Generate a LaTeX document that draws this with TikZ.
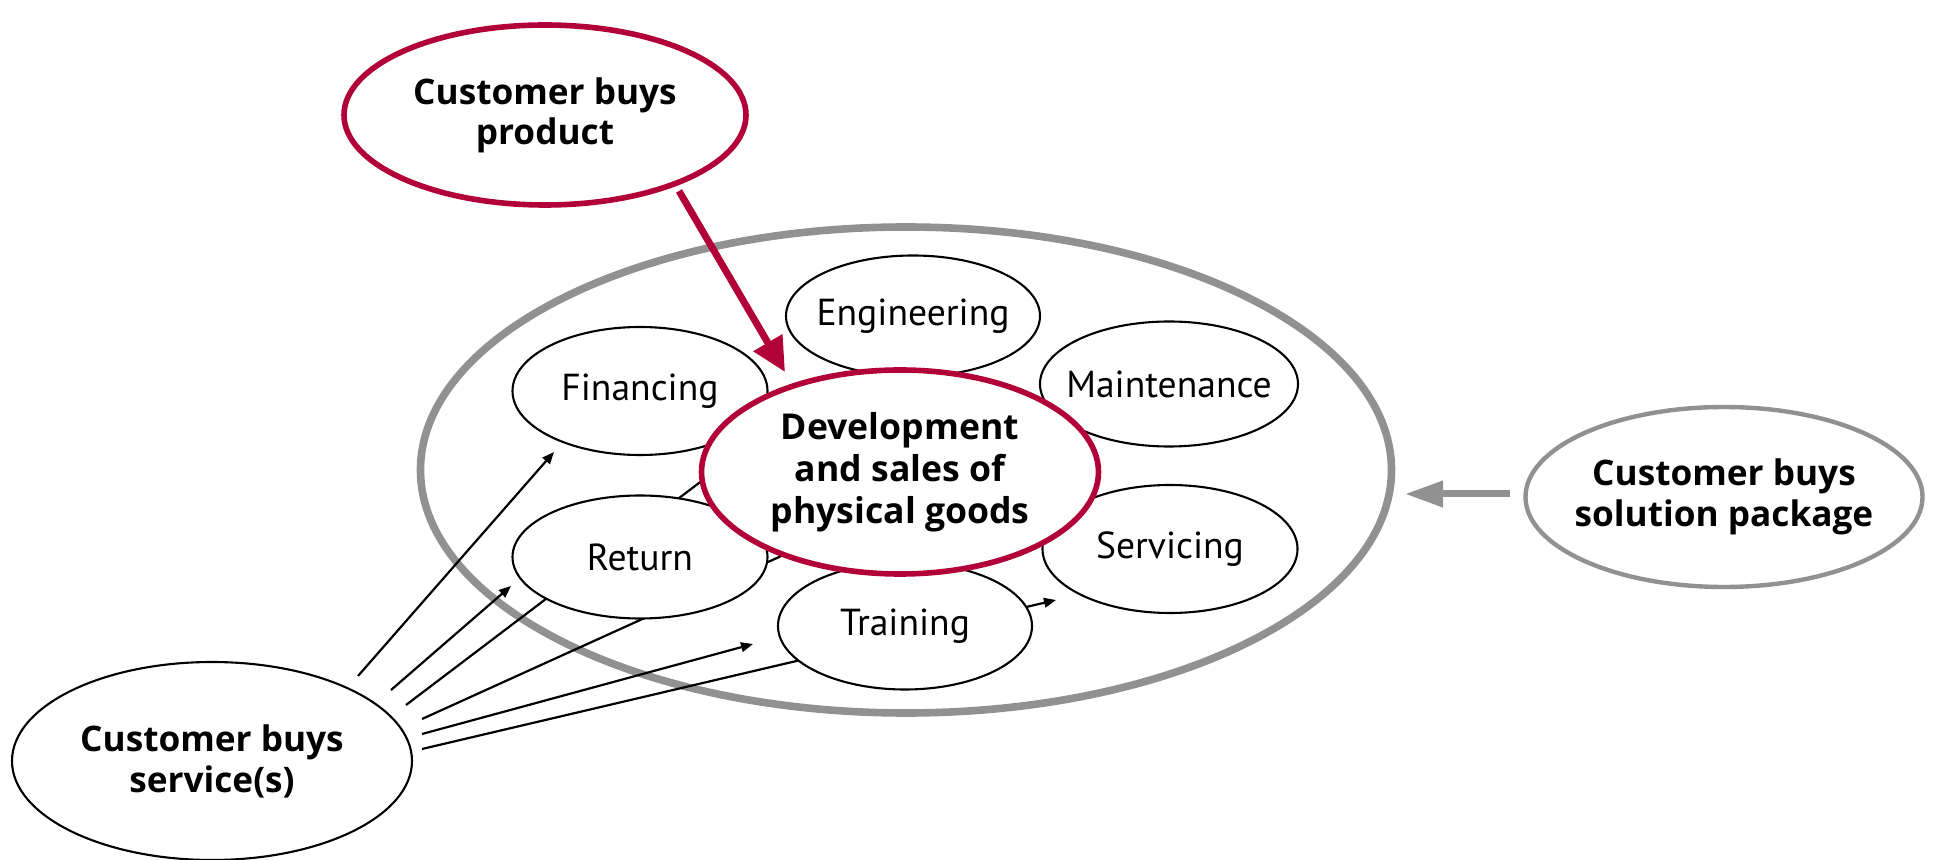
\documentclass[tikz,border=0pt]{standalone}
\usepackage{fontspec}
\setmainfont{Open Sans}
\newfontfamily\svcfont{PT Sans}
\usetikzlibrary{shapes.geometric,arrows.meta}
\definecolor{bred}{RGB}{178,0,56}
\definecolor{bgray}{RGB}{145,145,145}
\newcommand\zwbox[1]{\makebox[0pt]{#1}}
\begin{document}
\begin{tikzpicture}[x=0.5pt,y=-0.5pt,
  ell/.style={ellipse,draw,fill=white,inner sep=0pt,outer sep=0pt,align=center},
  svc/.style={ell,line width=1.05pt,minimum width=127.5pt,minimum height=62pt,font=\svcfont\fontsize{18.8}{20}\selectfont},
  buy/.style={ell,font=\bfseries\fontsize{17.6}{20.5}\selectfont},
  conn/.style={line width=1.1pt},
  carr/.style={conn,-{Triangle[length=6pt,width=4.8pt]}}
]
\useasboundingbox (0,0) rectangle (1935,860);
% big gray ellipse
\node[ellipse,draw=bgray,line width=3.8pt,minimum width=485.5pt,minimum height=243pt,inner sep=0pt] (world) at (906,470) {};
% service(s) client
\node[buy,line width=1.05pt,minimum width=200pt,minimum height=99pt] (srv) at (212,761) {\zwbox{Customer buys}\\\zwbox{service(s)}};
% connector coordinates
\coordinate (s1) at (358,676); \coordinate (e1) at (554,452);
\coordinate (s2) at (391,690); \coordinate (e2) at (511,586);
\coordinate (s3) at (406,705); \coordinate (e3) at (790,414);
\coordinate (s4) at (422,719); \coordinate (e4) at (854,523);
\coordinate (s5) at (422,734); \coordinate (e5) at (753,644);
\coordinate (s6) at (422,749); \coordinate (e6) at (1056,600);
\draw[carr] (s1) -- (e1);
\draw[carr] (s2) -- (e2);
\draw[conn] (s3) -- (e3);
\draw[conn] (s4) -- (e4);
\draw[carr] (s5) -- (e5);
\draw[carr] (s6) -- (e6);
% services
\node[svc,minimum width=127pt,minimum height=60.5pt] (eng) at (913,316) {\zwbox{Engineering}};
\node[svc,minimum height=64pt] (fin) at (640,391) {\zwbox{Financing}};
\node[svc,minimum width=129pt,minimum height=62.5pt] (mai) at (1169,384) {\zwbox{Maintenance}};
\node[svc,minimum height=61.5pt] (ret) at (640,557) {\zwbox{Return}};
\node[svc,minimum height=64pt] (ser) at (1170,549) {\zwbox{Servicing}};
\node[svc,minimum width=127pt,minimum height=63.5pt] (tra) at (905,626) {\zwbox{Training}};
% core
\node[buy,draw=bred,line width=2.8pt,minimum width=198.5pt,minimum height=102pt,font=\bfseries\fontsize{17.8}{21}\selectfont] (dev) at (900,472) {\zwbox{Development}\\\zwbox{and sales of}\\\zwbox{physical goods}};
% product
\node[buy,draw=bred,line width=2.8pt,minimum width=201pt,minimum height=90pt,font=\bfseries\fontsize{17.6}{20}\selectfont] (prod) at (545,115) {\zwbox{Customer buys}\\\zwbox{product}};
% solution
\node[buy,draw=bgray,line width=2.2pt,minimum width=198.5pt,minimum height=90pt] (sol) at (1724,497) {\zwbox{Customer buys}\\\zwbox{solution package}};
% arrows
\coordinate (ra1) at (679,191); \coordinate (ra2) at (785,372);
\draw[bred,line width=3.5pt,-{Triangle[length=17pt,width=16pt]}] (ra1) -- (ra2);
\coordinate (ga1) at (1510,494); \coordinate (ga2) at (1405,494);
\draw[bgray,line width=3.5pt,-{Triangle[length=19pt,width=12.5pt]}] (ga1) -- (ga2);
\end{tikzpicture}
\end{document}
